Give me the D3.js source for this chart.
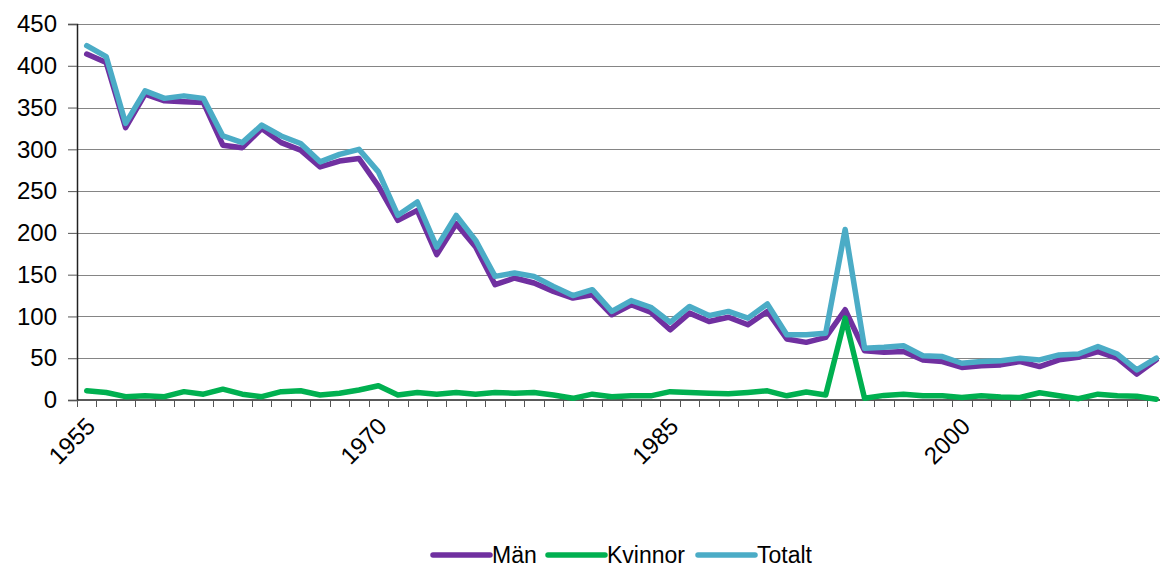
<!DOCTYPE html>
<html>
<head>
<meta charset="utf-8">
<script src="https://cdn.jsdelivr.net/npm/d3@7"></script>
<style>
    body { margin: 0; background: #ffffff; }
    svg { display: block; }
</style>
</head>
<body>
<div id="chart"></div>
<script>
// data
var years = d3.range(1955, 2011);
var tickYears = [1955, 1970, 1985, 2000];
var yTicks = [0, 50, 100, 150, 200, 250, 300, 350, 400, 450];

var man = [414, 404, 326, 366, 358, 357, 356, 305, 302, 325, 308, 299, 279, 286, 289, 256, 215, 227, 174, 211,
    183, 138, 146, 140, 130, 122, 126, 102, 114, 105, 84, 104, 94, 99, 90, 106, 73, 69, 75, 108,
    59, 57, 58, 48, 46, 39, 41, 42, 46, 40, 48, 51, 58, 50, 31, 48];
var kvinnor = [11, 9, 4, 5, 4, 10, 7, 13, 7, 4, 10, 11, 6, 8, 12, 17, 6, 9, 7, 9,
    7, 9, 8, 9, 6, 2, 7, 4, 5, 5, 10, 9, 8, 7.5, 9, 11, 5, 9.5, 6, 98,
    2, 5.5, 7, 5, 5, 3, 5, 3.5, 3, 8.7, 5, 1.6, 7, 5, 4.4, 1];
var totalt = [424, 411, 331, 370, 361, 364, 361, 316, 308, 329, 316, 307, 285, 294, 300, 273, 221, 237, 183, 221,
    191, 148, 152, 148, 136, 125, 132, 106, 119, 111, 93, 112, 101, 106, 98, 115, 78, 78, 80, 204,
    62, 63, 65, 53, 52, 44, 46, 47, 50, 48, 54, 55, 64, 55, 36, 50];

var seriesNames = ["Män", "Kvinnor", "Totalt"];
var seriesValues = [man, kvinnor, totalt];
var seriesColors = ["#7030A0", "#00B050", "#4BACC6"];

var margin = { top: 24, right: -6, bottom: 167, left: 77 };
var fullWidth = 1160, fullHeight = 567;
var width = fullWidth - margin.left - margin.right;
var height = fullHeight - margin.top - margin.bottom;
var font = "'Liberation Sans', Arial, sans-serif";

var svg = d3.select("#chart")
    .append("svg")
    .attr("width", fullWidth)
    .attr("height", fullHeight)
    .append("g")
    .attr("transform", "translate(" + margin.left + "," + margin.top + ")");

// scales
var x = d3.scaleBand()
    .domain(years)
    .range([0, width]);

var y = d3.scaleLinear()
    .domain([0, 450])
    .range([height, 0]);

// grid lines
svg.append("g")
    .selectAll("line")
    .data(yTicks.slice(1))
    .join("line")
    .attr("x1", 0)
    .attr("x2", width)
    .attr("y1", function (d) { return Math.round(y(d)) + 0.5; })
    .attr("y2", function (d) { return Math.round(y(d)) + 0.5; })
    .attr("stroke", "#858585")
    .attr("stroke-width", 1.2);

// y axis
var yAxis = svg.append("g")
    .call(d3.axisLeft(y).tickValues(yTicks).tickSize(9).tickPadding(11));
yAxis.select(".domain").attr("stroke", "#222").attr("stroke-width", 1.5);
yAxis.selectAll(".tick line").attr("stroke", "#555");
yAxis.selectAll("text")
    .attr("font-family", font)
    .style("font-size", "24px")
    .attr("fill", "#000");

// x axis, ticks between categories
var xAxis = svg.append("g")
    .attr("transform", "translate(0," + height + ")");

xAxis.append("line")
    .attr("x1", 0)
    .attr("x2", width)
    .attr("stroke", "#222")
    .attr("stroke-width", 1.5);

xAxis.selectAll(".tk")
    .data(years)
    .join("line")
    .attr("class", "tk")
    .attr("x1", function (d) { return Math.round(x(d)) + 0.5; })
    .attr("x2", function (d) { return Math.round(x(d)) + 0.5; })
    .attr("y1", 0)
    .attr("y2", 7)
    .attr("stroke", "#555");

xAxis.selectAll(".lbl")
    .data(tickYears)
    .join("text")
    .attr("class", "lbl")
    .attr("transform", function (d) {
        return "translate(" + (x(d) + x.bandwidth() / 2 - 2) + ",16) rotate(-45)";
    })
    .attr("text-anchor", "end")
    .attr("dy", "0.7em")
    .attr("font-family", font)
    .style("font-size", "24px")
    .text(function (d) { return d; });

// lines
var line = d3.line()
    .x(function (d, i) { return x(years[i]) + x.bandwidth() / 2; })
    .y(function (d) { return y(d); });

svg.append("g")
    .selectAll("path")
    .data(seriesValues)
    .join("path")
    .attr("d", function (d) { return line(d); })
    .attr("fill", "none")
    .attr("stroke", function (d, i) { return seriesColors[i]; })
    .attr("stroke-width", 5.5)
    .attr("stroke-linejoin", "round")
    .attr("stroke-linecap", "round");

// legend
var legendX = [433, 548, 698];
var legend = d3.select("svg").append("g")
    .selectAll("g")
    .data(seriesNames)
    .join("g")
    .attr("transform", function (d, i) { return "translate(" + legendX[i] + ",555)"; });

legend.append("line")
    .attr("x1", 0)
    .attr("x2", 57)
    .attr("stroke", function (d, i) { return seriesColors[i]; })
    .attr("stroke-width", 5.5)
    .attr("stroke-linecap", "round");

legend.append("text")
    .attr("x", 59)
    .attr("dy", "0.36em")
    .attr("font-family", font)
    .style("font-size", "23px")
    .text(function (d) { return d; });
</script>
</body>
</html>
